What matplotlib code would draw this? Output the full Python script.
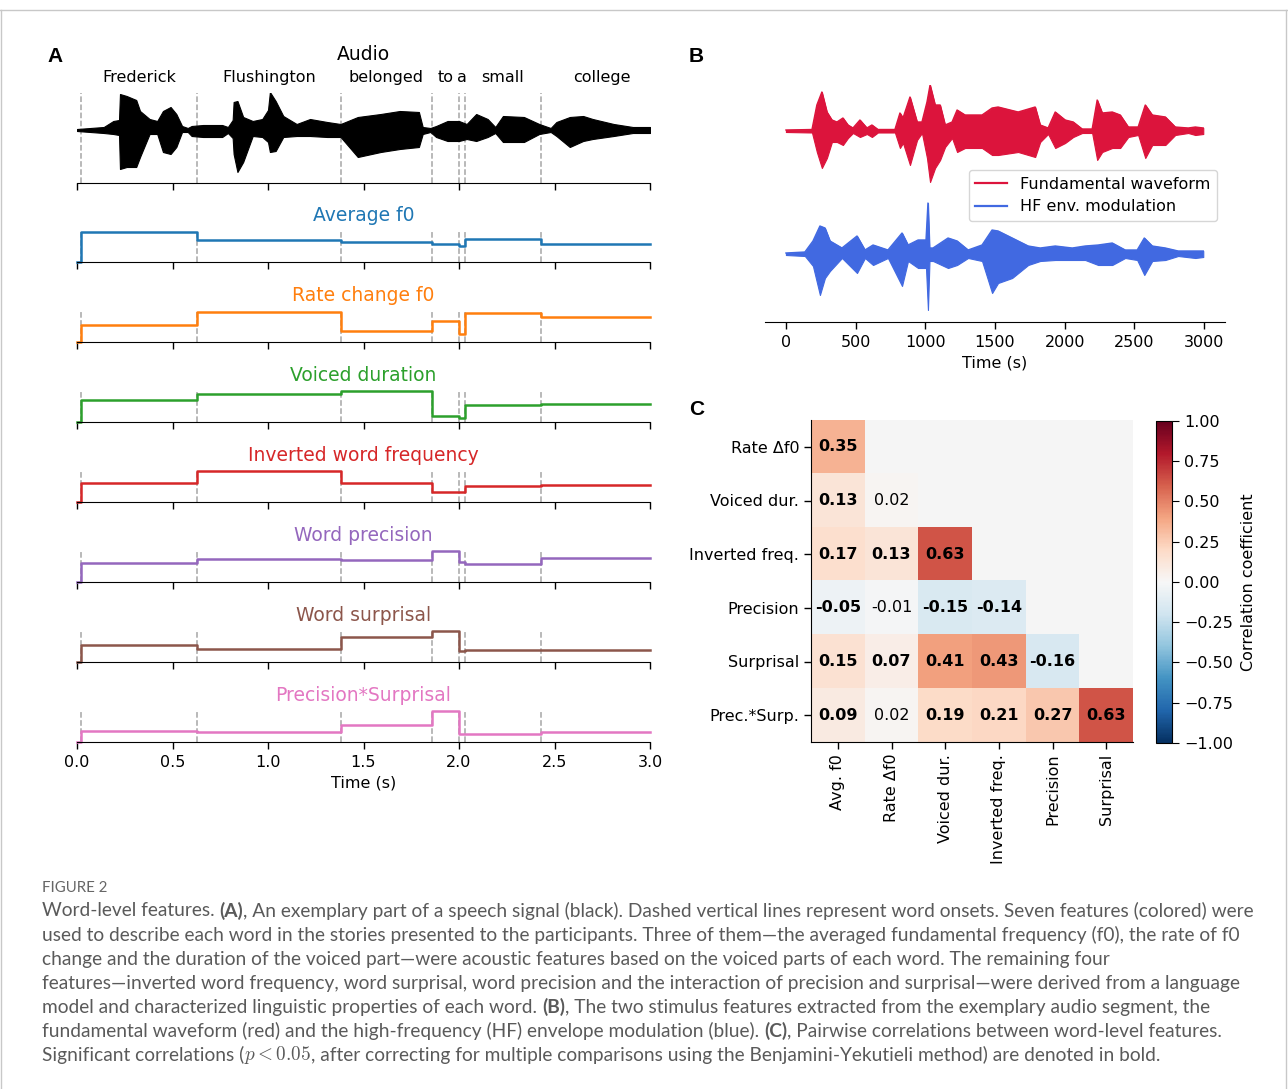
import numpy as np
import matplotlib
matplotlib.use("Agg")
from matplotlib import pyplot as plt
from matplotlib.lines import Line2D
from matplotlib.ticker import FuncFormatter

W, H = 1288, 1089

# ---- panel A data ----
words = ["Frederick", "Flushington", "belonged", "to", "a", "small", "college"]
onsets = [0.02, 0.63, 1.38, 1.86, 2.0, 2.03, 2.43]
word_ends = [0.63, 1.38, 1.86, 2.0, 2.03, 2.43, 3.07]

# audio envelope (time in s, amplitude above / below zero)
audio_t = [0.0, 0.07, 0.14, 0.19, 0.22, 0.225, 0.26, 0.31, 0.33, 0.38, 0.42, 0.45, 0.49, 0.52, 0.55,
           0.58, 0.60, 0.66, 0.76, 0.79, 0.815, 0.82, 0.84, 0.87, 0.92, 0.97, 1.0, 1.01, 1.04, 1.08,
           1.15, 1.22, 1.31, 1.38, 1.47, 1.59, 1.69, 1.79, 1.81, 1.85, 1.88, 1.94, 2.0, 2.04, 2.09,
           2.15, 2.19, 2.23, 2.34, 2.42, 2.48, 2.51, 2.58, 2.65, 2.70, 2.81, 2.91, 3.0]
audio_up = [1, 2, 3, 9, 10, 36, 34, 30, 19, 11, 9, 19, 23, 16, 4, 2, 4, 5, 5, 3, 10, 28, 29, 13, 9,
            11, 20, 38, 29, 14, 6, 11, 8, 6, 13, 16, 19, 18, 3, 2, 4, 9, 9, 6, 16, 11, 3, 14, 13, 6,
            2, 8, 13, 14, 11, 6, 3, 3]
audio_lo = [1, 2, 3, 4, 5, 39, 37, 37, 27, 4, 4, 22, 24, 17, 2, 2, 6, 7, 7, 3, 8, 24, 42, 32, 6, 7,
            12, 22, 21, 7, 6, 6, 7, 7, 27, 22, 19, 17, 4, 2, 7, 11, 11, 9, 11, 7, 3, 12, 12, 4, 2, 6,
            17, 11, 9, 6, 3, 3]

# word-level features (one value per word, scaled to axis height)
feat_names = ["Average f0", "Rate change f0", "Voiced duration", "Inverted word frequency",
              "Word precision", "Word surprisal", "Precision*Surprisal"]
feat_colors = ["#1f77b4", "#ff7f0e", "#2ca02c", "#d62728", "#9467bd", "#8c564b", "#e377c2"]
avg_f0 = [0.97, 0.70, 0.65, 0.59, 0.51, 0.73, 0.59]
rate_f0 = [0.54, 0.96, 0.35, 0.69, 0.26, 0.94, 0.80]
voiced_dur = [0.72, 0.90, 0.99, 0.20, 0.12, 0.54, 0.58]
inv_freq = [0.61, 0.99, 0.61, 0.32, 0.32, 0.51, 0.56]
precision = [0.60, 0.74, 0.70, 1.00, 0.65, 0.59, 0.76]
surprisal = [0.56, 0.43, 0.80, 0.99, 0.35, 0.40, 0.38]
prec_surp = [0.35, 0.32, 0.56, 0.99, 0.26, 0.26, 0.31]
feat_values = [avg_f0, rate_f0, voiced_dur, inv_freq, precision, surprisal, prec_surp]

# ---- panel B data (envelopes) ----
red_t = [0, 187, 222, 258, 294, 330, 366, 409, 445, 481, 531, 581, 617, 660, 782, 818, 840, 890,
         941, 976, 1012, 1034, 1070, 1106, 1142, 1192, 1228, 1285, 1407, 1479, 1522, 1666, 1788,
         1824, 1881, 1932, 2003, 2061, 2125, 2197, 2233, 2269, 2341, 2398, 2456, 2527, 2578, 2628,
         2722, 2793, 2886, 2937, 2994]
red_up = [1, 1.5, 26, 39, 19, 11, 9, 13, 6, 3, 11, 3, 6, 1.5, 1.5, 18, 13, 34, 9, 9, 29, 46, 26, 26,
          6, 9, 21, 16, 16, 23, 24, 19, 24, 6, 3, 19, 11, 9, 2, 2, 31, 18, 19, 16, 4, 4, 26, 16, 14,
          4, 3, 4, 3]
red_lo = [1, 1.5, 21, 37, 27, 11, 11, 14, 7, 2, 6, 3, 6, 1.5, 1.5, 17, 12, 34, 9, 2, 27, 51, 37, 29,
          16, 7, 21, 17, 17, 24, 24, 21, 26, 11, 3, 17, 12, 6, 2, 2, 29, 21, 17, 17, 6, 4, 27, 14, 14,
          4, 2, 4, 3]
blue_t = [0, 136, 194, 244, 280, 316, 402, 510, 567, 625, 732, 833, 876, 948, 1005, 1019, 1030, 1055,
          1163, 1228, 1307, 1407, 1479, 1522, 1623, 1738, 1824, 1932, 2054, 2147, 2240, 2341, 2434,
          2520, 2571, 2628, 2722, 2814, 2937, 2994]
blue_up = [1, 2, 13, 28, 26, 13, 6, 18, 4, 9, 4, 21, 9, 14, 14, 51, 6, 6, 16, 13, 4, 9, 24, 23, 16,
           8, 6, 8, 6, 8, 9, 11, 4, 4, 16, 8, 6, 3, 3, 3]
blue_lo = [1, 2, 12, 41, 24, 17, 4, 19, 4, 11, 4, 32, 7, 14, 14, 56, 7, 7, 14, 11, 4, 7, 39, 29, 24,
           11, 7, 6, 6, 6, 11, 11, 4, 6, 21, 7, 6, 2, 4, 3]
red_offset = 123

# ---- panel C data ----
row_labels = ["Rate \u0394f0", "Voiced dur.", "Inverted freq.", "Precision", "Surprisal", "Prec.*Surp."]
col_labels = ["Avg. f0", "Rate \u0394f0", "Voiced dur.", "Inverted freq.", "Precision", "Surprisal"]
corr_rows = [[0.35],
             [0.13, 0.02],
             [0.17, 0.13, 0.63],
             [-0.05, -0.01, -0.15, -0.14],
             [0.15, 0.07, 0.41, 0.43, -0.16],
             [0.09, 0.02, 0.19, 0.21, 0.27, 0.63]]
signif_rows = [[1], [1, 0], [1, 1, 1], [1, 0, 1, 1], [1, 1, 1, 1, 1], [1, 0, 1, 1, 1, 1]]

caption_lines = [
    [("Word-level features.", "normal"), (" ", None), ("(A)", "bold"),
     (", An exemplary part of a speech signal (black). Dashed vertical lines represent word onsets. Seven features (colored) were", "normal")],
    [("used to describe each word in the stories presented to the participants. Three of them\u2014the averaged fundamental frequency (f0), the rate of f0", "normal")],
    [("change and the duration of the voiced part\u2014were acoustic features based on the voiced parts of each word. The remaining four", "normal")],
    [("features\u2014inverted word frequency, word surprisal, word precision and the interaction of precision and surprisal\u2014were derived from a language", "normal")],
    [("model and characterized linguistic properties of each word.", "normal"), (" ", None), ("(B)", "bold"),
     (", The two stimulus features extracted from the exemplary audio segment, the", "normal")],
    [("fundamental waveform (red) and the high-frequency (HF) envelope modulation (blue).", "normal"), (" ", None),
     ("(C)", "bold"), (", Pairwise correlations between word-level features.", "normal")],
    [("Significant correlations (", "normal"), (r"$p<0.05$", "normal"),
     (", after correcting for multiple comparisons using the Benjamini-Yekutieli method) are denoted in bold.", "normal")],
]

plt.rcParams["mathtext.fontset"] = "cm"
fig = plt.figure(figsize=(W / 100, H / 100), dpi=100)


def add_axes_px(left, top, right, bottom):
    return fig.add_axes([left / W, 1 - bottom / H, (right - left) / W, (bottom - top) / H])


def bottom_only(ax):
    for s in ["top", "right", "left"]:
        ax.spines[s].set_visible(False)
    ax.set_yticks([])
    ax.tick_params(axis="x", length=5, width=1, pad=4.5, labelsize=11.5)


# frame round the figure
for xs, ys in [([0, W], [10, 10]), ([1, 1], [10, H]), ([W - 2, W - 2], [10, H])]:
    fig.add_artist(Line2D([x / W for x in xs], [1 - y / H for y in ys], color="#c8c8c8", lw=1))

# panel letters
for lab, x, y in [("A", 55, 57), ("B", 696, 57), ("C", 697, 409)]:
    fig.text(x / W, 1 - y / H, lab, fontsize=15, fontweight="bold", family="Liberation Sans",
             ha="center", va="center")

# ---- panel A ----
ax = add_axes_px(77, 93, 650, 183)
ax.fill_between(audio_t, [-v for v in audio_lo], audio_up, color="black", lw=0.8)
for t in onsets:
    ax.axvline(t, color="0.65", ls="--", lw=1.1, zorder=0)
ax.set_xlim(0, 3.0)
ax.set_ylim(-53, 37)
bottom_only(ax)
ax.set_xticks(np.arange(0, 3.01, 0.5))
ax.set_xticklabels([])
ax.set_title("Audio", fontsize=13.5, pad=24)
for w, a, b in zip(words, onsets, word_ends):
    ax.annotate(w, ((a + b) / 2, 1.0), xycoords=("data", "axes fraction"), xytext=(0, 11),
                textcoords="offset points", ha="center", va="center", fontsize=11.5)

for i, (name, col, vals) in enumerate(zip(feat_names, feat_colors, feat_values)):
    base = 262 + 80 * i
    ax = add_axes_px(77, base - 31, 650, base)
    xs = [0] + onsets + [3.0]
    ys = [0] + vals + [vals[-1]]
    ax.step(xs, ys, where="post", color=col, lw=1.8, clip_on=False)
    for t in onsets:
        ax.axvline(t, color="0.65", ls="--", lw=1.1, zorder=0)
    ax.set_xlim(0, 3.0)
    ax.set_ylim(0, 1)
    bottom_only(ax)
    ax.set_xticks(np.arange(0, 3.01, 0.5))
    ax.set_title(name, color=col, fontsize=13.5, pad=7)
    if i < len(feat_names) - 1:
        ax.set_xticklabels([])
    else:
        ax.set_xlabel("Time (s)", fontsize=11.5, labelpad=4)

# ---- panel B ----
ax = add_axes_px(765, 85, 1225, 322)
ax.fill_between(red_t, [red_offset - v for v in red_lo], [red_offset + v for v in red_up],
                color="#DC143C", lw=0.8)
ax.fill_between(blue_t, [-v for v in blue_lo], blue_up, color="#4169E1", lw=0.8)
ax.plot(red_t, [red_offset + v for v in red_up], color="#DC143C", lw=1)
ax.plot(blue_t, blue_up, color="#4169E1", lw=1)
ax.set_xlim(-150, 3150)
ax.set_ylim(-68, 169)
bottom_only(ax)
ax.set_xticks(np.arange(0, 3001, 500))
ax.set_xlabel("Time (s)", fontsize=11.5, labelpad=4)
leg_red = Line2D([], [], color="#DC143C", lw=1.6)
leg_blue = Line2D([], [], color="#4169E1", lw=1.6)
ax.legend([leg_red, leg_blue], ["Fundamental waveform", "HF env. modulation"], loc="center",
          bbox_to_anchor=(1093 / W, 1 - 195.5 / H), bbox_transform=fig.transFigure, fontsize=11.5)

# ---- panel C ----
n = len(row_labels)
mat = np.full((n, n), np.nan)
for i, row in enumerate(corr_rows):
    mat[i, :len(row)] = row
ax = add_axes_px(811, 420, 1133, 742)
ax.set_facecolor("#f5f5f5")
im = ax.imshow(np.ma.masked_invalid(mat), cmap="RdBu_r", vmin=-1, vmax=1, aspect="auto")
for i, row in enumerate(corr_rows):
    for j, v in enumerate(row):
        ax.text(j, i, f"{v:.2f}", ha="center", va="center", fontsize=11.5,
                fontweight="bold" if signif_rows[i][j] else "normal")
ax.set_xticks(range(n))
ax.set_xticklabels(col_labels, rotation=90, fontsize=11.5)
ax.set_yticks(range(n))
ax.set_yticklabels(row_labels, fontsize=11.5)
ax.spines["top"].set_visible(False)
ax.spines["right"].set_visible(False)
ax.tick_params(length=5, width=1)

cax = add_axes_px(1156, 421, 1172, 743)
cb = fig.colorbar(im, cax=cax)
cb.set_ticks(np.linspace(-1, 1, 9))
cb.ax.yaxis.set_major_formatter(FuncFormatter(lambda v, _: f"{v:.2f}".replace("-", "\u2212")))
cb.ax.tick_params(labelsize=11.5, length=5)
cb.set_label("Correlation coefficient", fontsize=11.5, labelpad=6)

# ---- caption ----
cap_font = "Lato"
cap_color = "#5a5a5a"
renderer = fig.canvas.get_renderer()


def text_width(txt, size, weight):
    t = fig.text(0, 0, txt, fontsize=size, fontweight=weight, family=cap_font)
    w = t.get_window_extent(renderer).width
    t.remove()
    return w


def line_width(segs, size):
    sp = text_width("a a", size, "normal") - text_width("aa", size, "normal")
    return sum(sp if wt is None else text_width(s, size, wt) for s, wt in segs)


cap_size = 12 * 1216 / line_width(caption_lines[0], 12)
space_w = text_width("a a", cap_size, "normal") - text_width("aa", cap_size, "normal")

fig.text(42 / W, 1 - 888 / H, "FIGURE 2", fontsize=cap_size * 0.78, family=cap_font,
         color="#666666", va="center")
for k, segs in enumerate(caption_lines):
    x = 42
    y = 911 + 24 * k
    for s, wt in segs:
        if wt is None:
            x += space_w
            continue
        t = fig.text(x / W, 1 - y / H, s, fontsize=cap_size, fontweight=wt, family=cap_font,
                     color=cap_color, va="center")
        x += t.get_window_extent(renderer).width

fig.savefig("out.png", dpi=100)
